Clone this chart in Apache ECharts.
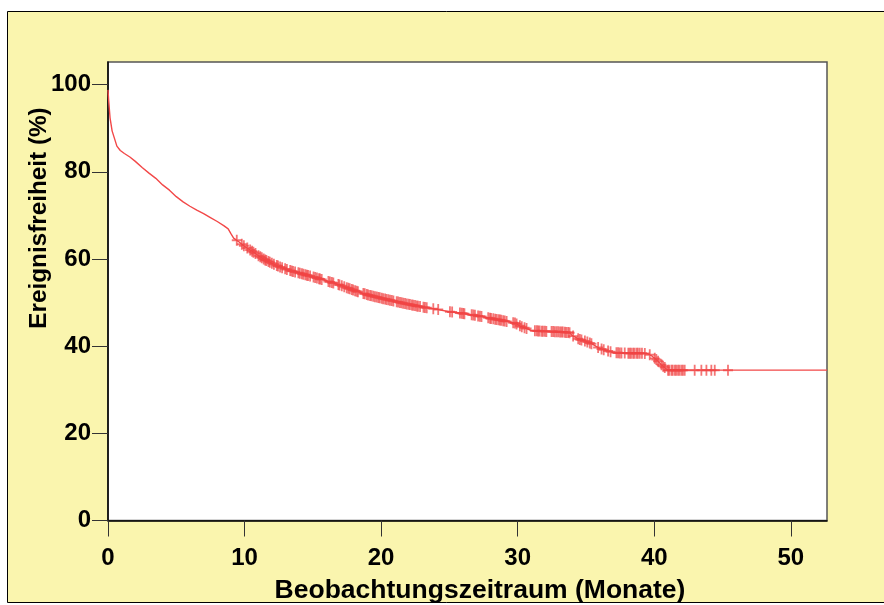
<!DOCTYPE html>
<html>
<head>
<meta charset="utf-8">
<script src="https://cdn.jsdelivr.net/npm/echarts@6/dist/echarts.min.js"></script>
<style>
html,body{margin:0;padding:0;background:#fff;}
#chart{width:884px;height:605px;}
</style>
</head>
<body>
<div id="chart"></div>
<script>
// Kaplan-Meier curve (months, % event-free)
const times = [0, 0.05, 0.15, 0.3, 0.45, 0.65, 0.9, 1.2, 1.6, 2.0, 2.5, 3.0, 3.5, 4.0, 4.5, 5.0, 5.5, 6.0, 6.5, 7.0, 7.5, 8.0, 8.5, 8.8, 9.0, 9.2, 9.6, 10.0, 10.5, 11.0, 11.5, 12.0, 12.5, 13.0, 13.5, 14.0, 15.0, 16.0, 17.0, 18.0, 19.0, 20.0, 21.0, 22.0, 23.0, 24.0, 25.0, 26.0, 27.0, 28.0, 29.0, 29.8, 30.2, 30.6, 31.0, 32.0, 33.0, 33.8, 34.0, 34.5, 35.0, 35.5, 36.0, 36.5, 37.0, 38.0, 39.0, 39.5, 39.8, 40.2, 40.5, 40.8, 41.0, 45.4, 52.65];
const survival = [98.8, 96.3, 92.4, 89.4, 87.9, 85.9, 84.9, 84.2, 83.4, 82.4, 81.0, 79.7, 78.5, 77.0, 75.8, 74.3, 73.1, 72.1, 71.2, 70.4, 69.5, 68.6, 67.6, 66.9, 65.8, 64.8, 63.9, 62.9, 61.9, 60.8, 59.8, 59.0, 58.3, 57.7, 57.2, 56.8, 55.9, 55.0, 54.0, 52.8, 51.8, 51.0, 50.3, 49.6, 49.0, 48.5, 47.9, 47.5, 47.0, 46.4, 45.8, 45.3, 44.6, 44.1, 43.6, 43.4, 43.3, 43.1, 42.4, 41.6, 41.1, 40.4, 39.5, 39.0, 38.5, 38.4, 38.4, 38.3, 37.8, 36.8, 35.8, 35.0, 34.5, 34.5, 34.5];
// censored observations (months)
const censorTimes = [9.43, 9.8, 9.95, 10.2, 10.41, 10.55, 10.65, 10.8, 11.02, 11.15, 11.26, 11.4, 11.51, 11.6, 11.75, 11.85, 12.0, 12.15, 12.36, 12.45, 12.6, 12.75, 12.97, 13.1, 13.34, 13.45, 13.55, 13.7, 13.94, 14.05, 14.2, 14.31, 14.45, 14.56, 14.65, 14.8, 15.05, 15.17, 15.3, 15.45, 15.53, 15.65, 16.14, 16.25, 16.39, 16.5, 16.87, 16.95, 17.12, 17.3, 17.48, 17.6, 17.7, 17.85, 17.95, 18.09, 18.2, 18.3, 18.7, 18.8, 18.95, 19.05, 19.19, 19.3, 19.43, 19.55, 19.68, 19.8, 19.9, 20.04, 20.15, 20.29, 20.4, 20.53, 20.65, 20.78, 20.9, 21.14, 21.25, 21.38, 21.5, 21.62, 21.75, 21.87, 22.0, 22.11, 22.25, 22.35, 22.48, 22.6, 22.7, 22.85, 23.1, 23.21, 23.34, 23.82, 24.18, 25.04, 25.2, 25.77, 25.9, 26.01, 26.1, 26.63, 26.75, 26.87, 27.1, 27.23, 27.35, 27.84, 27.97, 28.05, 28.21, 28.35, 28.46, 28.6, 28.7, 28.8, 28.94, 29.05, 29.19, 29.67, 29.8, 29.92, 30.16, 30.3, 30.5, 30.65, 31.26, 31.4, 31.5, 31.6, 31.75, 31.85, 31.99, 32.1, 32.48, 32.6, 32.72, 32.85, 32.97, 33.1, 33.21, 33.3, 33.45, 33.55, 33.69, 33.8, 34.06, 34.43, 34.55, 34.67, 34.92, 35.1, 35.28, 35.4, 35.89, 36.14, 36.3, 36.62, 36.8, 37.23, 37.35, 37.47, 37.6, 37.84, 38.1, 38.2, 38.3, 38.45, 38.55, 38.7, 38.8, 38.94, 39.1, 39.31, 39.67, 40.04, 40.15, 40.28, 40.53, 40.65, 40.77, 41.01, 41.1, 41.26, 41.35, 41.5, 41.6, 41.74, 41.85, 41.99, 42.1, 42.23, 42.96, 43.45, 43.82, 44.18, 44.43, 45.4];
const xTicks = [0, 10, 20, 30, 40, 50];
const yTicks = [0, 20, 40, 60, 80, 100];
const xTitle = 'Beobachtungszeitraum (Monate)';
const yTitle = 'Ereignisfreiheit (%)';

// value of the drawn curve at time t (to sit the censor marks on the line)
function curveAt(t) {
  for (let i = 0; i < times.length - 1; i++) {
    if (t >= times[i] && t <= times[i + 1]) {
      const f = (t - times[i]) / (times[i + 1] - times[i]);
      return survival[i] + f * (survival[i + 1] - survival[i]);
    }
  }
  return survival[survival.length - 1];
}

const RED = '#f24848';
const FONT = 'Liberation Sans';
const chart = echarts.init(document.getElementById('chart'), null, {renderer: 'canvas'});
chart.setOption({
  animation: false,
  backgroundColor: '#ffffff',
  graphic: [
    {type: 'rect', z: -100, silent: true,
     shape: {x: 7.5, y: 11.5, width: 900, height: 591},
     style: {fill: '#faf5ae', stroke: '#000', lineWidth: 1}},
    {type: 'rect', z: -99, silent: true,
     shape: {x: 108, y: 62, width: 719, height: 458.5},
     style: {fill: '#ffffff', stroke: '#555', lineWidth: 1.5}},
    {type: 'text', x: 480, y: 591, silent: true,
     style: {text: xTitle, font: 'bold 26.5px "' + FONT + '"', fill: '#000', align: 'center', verticalAlign: 'middle'}},
    {type: 'text', x: 39, y: 218, rotation: Math.PI / 2, silent: true,
     style: {text: yTitle, font: 'bold 24.3px "' + FONT + '"', fill: '#000', align: 'center', verticalAlign: 'middle'}}
  ],
  grid: {left: 108, right: 57, top: 62, bottom: 84.5, containLabel: false, show: false},
  xAxis: {
    type: 'value', min: 0, max: 52.65, interval: 10,
    splitLine: {show: false},
    axisLine: {show: true, onZero: false, lineStyle: {color: '#000', width: 1.5}},
    axisTick: {show: true, inside: false, length: 16, lineStyle: {color: '#333', width: 1}, customValues: xTicks},
    axisLabel: {customValues: xTicks, margin: 26, color: '#000', fontFamily: FONT, fontWeight: 'bold', fontSize: 24}
  },
  yAxis: {
    type: 'value', min: 0, max: 105.2, interval: 20,
    splitLine: {show: false},
    axisLine: {show: true, onZero: false, lineStyle: {color: '#000', width: 1.5}},
    axisTick: {show: true, inside: false, length: 16, lineStyle: {color: '#333', width: 1}, customValues: yTicks},
    axisLabel: {customValues: yTicks, margin: 17, color: '#000', fontFamily: FONT, fontWeight: 'bold', fontSize: 24, padding: [8, 0, 0, 0]}
  },
  series: [
    {
      type: 'line',
      data: times.map((t, i) => [t, survival[i]]),
      showSymbol: false,
      symbol: 'none',
      lineStyle: {color: RED, width: 1.4},
      z: 2
    },
    {
      type: 'scatter',
      data: censorTimes.map(t => [t, curveAt(t)]),
      symbol: 'path://M0,4.1H10V5.9H0Z M4.1,0H5.9V10H4.1Z',
      symbolSize: [10, 11],
      symbolKeepAspect: false,
      itemStyle: {color: 'rgba(240,68,68,0.92)'},
      z: 3
    }
  ]
});
</script>
</body>
</html>
